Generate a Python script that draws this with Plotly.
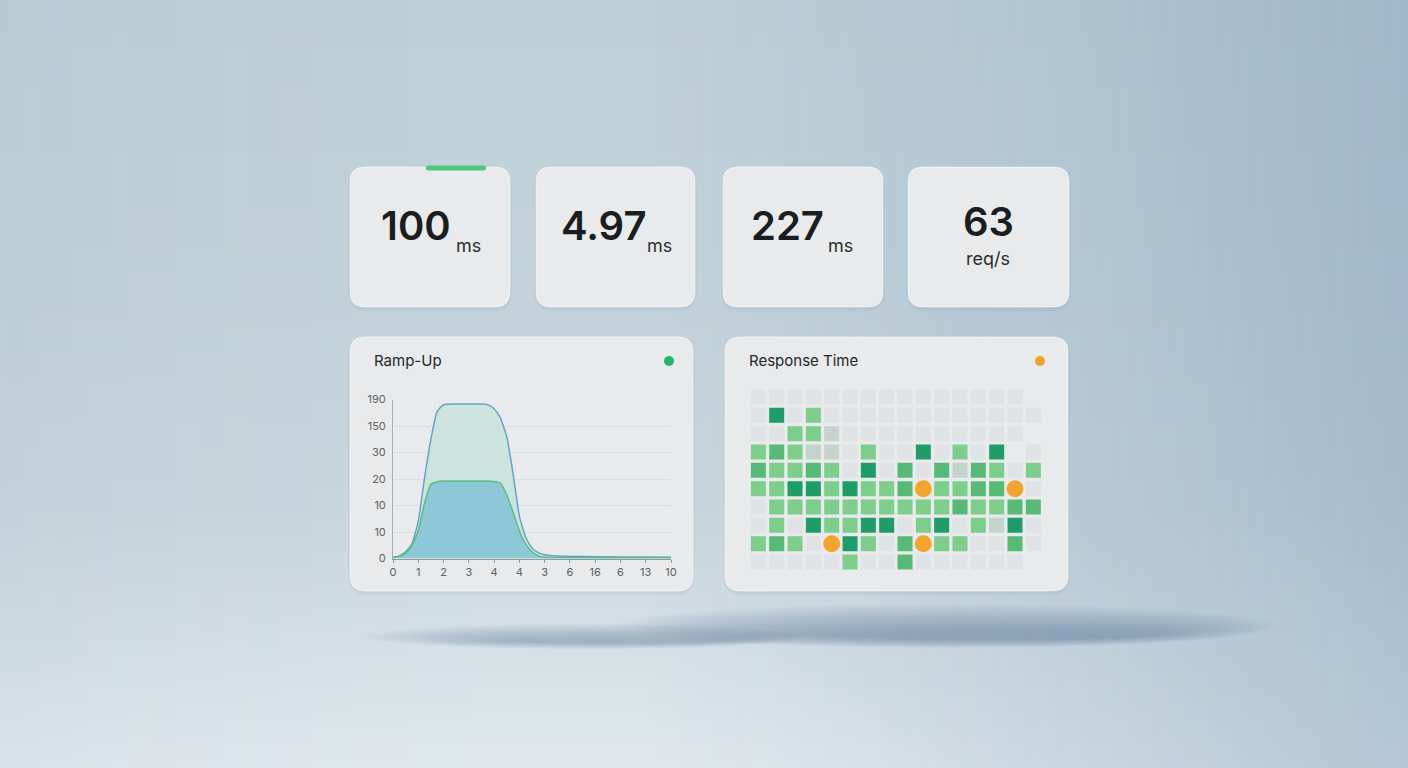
import plotly.graph_objects as go

W, H = 1408, 768

# ---------------- data ----------------
kpi_values = ["100", "4.97", "227", "63"]
kpi_units = ["ms", "ms", "ms", "req/s"]

ramp_x = [0, 0.25, 0.5, 0.75, 1.0, 1.25, 1.5, 1.75, 2.0, 2.5, 3.0, 3.5, 3.75, 4.0,
          4.25, 4.5, 4.75, 5.0, 5.25, 5.5, 5.75, 6.0, 6.5, 7, 8, 9, 10, 11]
ramp_outer = [0.05, 0.1, 0.25, 0.55, 1.4, 3.05, 4.5, 5.55, 5.8, 5.83, 5.83, 5.83, 5.8, 5.65,
              5.3, 4.6, 3.2, 1.6, 0.8, 0.4, 0.22, 0.14, 0.09, 0.08, 0.07, 0.06, 0.06, 0.05]
ramp_inner = [0.03, 0.08, 0.2, 0.5, 1.05, 2.1, 2.8, 2.9, 2.92, 2.92, 2.92, 2.92, 2.92, 2.9,
              2.85, 2.4, 1.75, 1.05, 0.55, 0.25, 0.1, 0.05, 0.04, 0.03, 0.03, 0.03, 0.03, 0.03]
y_tick_labels = ["0", "10", "10", "20", "30", "150", "190"]
x_tick_labels = ["0", "1", "2", "3", "4", "4", "3", "6", "16", "6", "13", "10"]

# response-time grid: -1 none, 0 empty, 1 light, 2 medium, 3 dark, 4 orange, 5 faded
heat_rows = [
    [0, 0, 0, 0, 0, 0, 0, 0, 0, 0, 0, 0, 0, 0, 0, -1],
    [0, 3, 0, 1, 0, 0, 0, 0, 0, 0, 0, 0, 0, 0, 0, 0],
    [0, 0, 1, 1, 5, 0, 0, 0, 0, 0, 0, 0, 0, 0, 0, -1],
    [1, 2, 1, 5, 5, 0, 1, 0, 0, 3, 0, 1, 0, 3, -1, 0],
    [2, 1, 1, 2, 1, 0, 3, 0, 2, 0, 2, 5, 2, 1, 0, 1],
    [1, 1, 3, 3, 1, 3, 1, 1, 2, 4, 1, 1, 2, 2, 4, 0],
    [0, 1, 1, 1, 1, 1, 1, 1, 1, 1, 1, 2, 1, 1, 2, 2],
    [0, 1, 0, 3, 1, 1, 3, 3, 0, 1, 3, 0, 1, 5, 3, 0],
    [1, 2, 1, 0, 4, 3, 1, 0, 2, 4, 1, 1, 0, 0, 2, 0],
    [0, 0, 0, 0, 0, 1, 0, 0, 2, 0, 0, 0, 0, 0, 0, -1],
]
level_colors = {0: "#dfe3e6", 1: "#7dcd8b", 2: "#56b976", 3: "#1f9d68", 4: "#f2a42c", 5: "#c4d3cb"}


# ---------------- helpers ----------------
def px(x):
    return x / W


def py(y):
    return 1 - y / H


def lerp(a, b, t):
    return a + (b - a) * t


def interp_color(stops, t):
    for i in range(len(stops) - 1):
        t0, c0 = stops[i]
        t1, c1 = stops[i + 1]
        if t0 <= t <= t1:
            f = (t - t0) / (t1 - t0) if t1 > t0 else 0
            return tuple(int(round(lerp(c0[k], c1[k], f))) for k in range(3))
    return stops[-1][1]


def rrect_path(x0, y0, x1, y1, r):
    pts = [("M", [(x0 + r, y0)]), ("L", [(x1 - r, y0)]), ("Q", [(x1, y0), (x1, y0 + r)]),
           ("L", [(x1, y1 - r)]), ("Q", [(x1, y1), (x1 - r, y1)]), ("L", [(x0 + r, y1)]),
           ("Q", [(x0, y1), (x0, y1 - r)]), ("L", [(x0, y0 + r)]), ("Q", [(x0, y0), (x0 + r, y0)])]
    s = ""
    for cmd, coords in pts:
        s += cmd + " ".join(f"{px(a):.5f},{py(b):.5f}" for a, b in coords) + " "
    return s + "Z"


shapes = []

# background: vertical gradient bands
v_stops = [(0, (190, 207, 216)), (300, (195, 210, 219)), (500, (201, 214, 222)),
           (650, (213, 224, 230)), (768, (224, 232, 237))]
band = 4
for i in range(H // band):
    yc = i * band + band / 2
    c = interp_color(v_stops, yc)
    shapes.append(dict(type="rect", xref="paper", yref="paper", x0=0, x1=1,
                       y0=py(i * band + band), y1=py(i * band), line_width=0,
                       fillcolor=f"rgb{c}", layer="below"))
# background: horizontal tint towards the right (bluer) and faint left
vb = 8
for i in range(W // vb):
    xc = (i * vb + vb / 2) / W
    if xc < 0.4:
        a = 0.07 * (1 - xc / 0.4) ** 2
    elif xc < 0.45:
        a = 0
    else:
        a = 0.42 * ((xc - 0.45) / 0.55) ** 1.25
    if a <= 0.002:
        continue
    shapes.append(dict(type="rect", xref="paper", yref="paper", x0=px(i * vb), x1=px(i * vb + vb),
                       y0=0, y1=1, line_width=0, fillcolor=f"rgba(118,152,182,{a:.3f})", layer="below"))

# floor shadow streak (stacked soft ellipses)
n = 24
for k in range(n):
    f = k / (n - 1)
    cx, cy = lerp(945, 990, f), 636
    hw, ht, hb = lerp(330, 150, f), lerp(32, 4, f), lerp(12, 3, f)
    shapes.append(dict(type="circle", xref="paper", yref="paper", x0=px(cx - hw), x1=px(cx + hw),
                       y0=py(cy + hb), y1=py(cy - ht), line_width=0,
                       fillcolor="rgba(105,140,168,0.036)", layer="below"))
n = 18
for k in range(n):
    f = k / (n - 1)
    cx, cy = lerp(585, 620, f), 641
    hw, ht, hb = lerp(220, 105, f), lerp(17, 3, f), lerp(8, 2, f)
    shapes.append(dict(type="circle", xref="paper", yref="paper", x0=px(cx - hw), x1=px(cx + hw),
                       y0=py(cy + hb), y1=py(cy - ht), line_width=0,
                       fillcolor="rgba(105,140,168,0.034)", layer="below"))

# cards
kpi_cards = [(350, 167, 510, 307), (536, 167, 695, 307), (723, 167, 883, 307), (908, 167, 1069, 307)]
chart_cards = [(350, 337, 693, 591), (725, 337, 1068, 591)]
for (x0, y0, x1, y1) in kpi_cards + chart_cards:
    for g, a in [(4, 0.045), (2, 0.06)]:
        shapes.append(dict(type="path", xref="paper", yref="paper",
                           path=rrect_path(x0 - g * 0.5, y0 + g * 0.5, x1 + g * 0.5, y1 + g * 1.2, 16 + g),
                           fillcolor=f"rgba(80,110,135,{a})", line_width=0, layer="below"))
    shapes.append(dict(type="path", xref="paper", yref="paper", path=rrect_path(x0, y0, x1, y1, 15),
                       fillcolor="#e8eaec", line=dict(color="rgba(255,255,255,0.55)", width=1),
                       layer="below"))

# green accent bar on first KPI card
shapes.append(dict(type="path", xref="paper", yref="paper", path=rrect_path(426, 165.5, 486, 170.5, 2.5),
                   fillcolor="#4ec77d", line_width=0, layer="below"))
# status dots
for (cx, cy, col) in [(669, 361, "#27b567"), (1040, 361, "#f0a328")]:
    shapes.append(dict(type="circle", xref="paper", yref="paper", x0=px(cx - 5), x1=px(cx + 5),
                       y0=py(cy + 5), y1=py(cy - 5), fillcolor=col, line_width=0, layer="below"))

# ---------------- traces ----------------
fig = go.Figure()

fig.add_trace(go.Scatter(x=ramp_x, y=ramp_outer, mode="lines",
                         line=dict(color="#64a3c6", width=1.5, shape="spline", smoothing=0.5),
                         fill="tozeroy", fillcolor="rgba(196,226,218,0.75)", xaxis="x", yaxis="y",
                         hoverinfo="skip", showlegend=False))
fig.add_trace(go.Scatter(x=ramp_x, y=ramp_inner, mode="lines",
                         line=dict(color="#5bbd80", width=1.5, shape="spline", smoothing=0.5),
                         fill="tozeroy", fillcolor="#8ec7d6", xaxis="x", yaxis="y",
                         hoverinfo="skip", showlegend=False))

# heatmap cells
for lvl in [0, 5, 1, 2, 3]:
    xs, ys = [], []
    for r, row in enumerate(heat_rows):
        for c, v in enumerate(row):
            if v == lvl:
                xs.append(c)
                ys.append(r)
    fig.add_trace(go.Scatter(x=xs, y=ys, mode="markers", xaxis="x2", yaxis="y2",
                             marker=dict(symbol="square", size=15, color=level_colors[lvl], line_width=0),
                             hoverinfo="skip", showlegend=False))
xs, ys = [], []
for r, row in enumerate(heat_rows):
    for c, v in enumerate(row):
        if v == 4:
            xs.append(c)
            ys.append(r)
fig.add_trace(go.Scatter(x=xs, y=ys, mode="markers", xaxis="x2", yaxis="y2",
                         marker=dict(symbol="circle", size=17, color=level_colors[4], line_width=0),
                         hoverinfo="skip", showlegend=False))

# ---------------- annotations ----------------
ann = []
num_font = dict(family="Inter, Roboto, sans-serif", size=40, color="#1b1e21", weight=600)
unit_font = dict(family="Inter, Roboto, sans-serif", size=18, color="#2a2e32")
num_pos = [(416, 225), (603, 225), (787, 225), (988, 221)]
unit_pos = [(454, 245), (645, 245), (826, 245), (988, 258)]
for i in range(4):
    ann.append(dict(text=kpi_values[i], x=px(num_pos[i][0]), y=py(num_pos[i][1]), xref="paper", yref="paper",
                    xanchor="center", yanchor="middle", showarrow=False, font=num_font))
    ann.append(dict(text=kpi_units[i], x=px(unit_pos[i][0]), y=py(unit_pos[i][1]), xref="paper", yref="paper",
                    xanchor="center" if i == 3 else "left", yanchor="middle", showarrow=False, font=unit_font))

title_font = dict(family="Inter, Roboto, sans-serif", size=15, color="#23272b")
ann.append(dict(text="Ramp-Up", x=px(372), y=py(361), xref="paper", yref="paper", xanchor="left",
                yanchor="middle", showarrow=False, font=title_font))
ann.append(dict(text="Response Time", x=px(747), y=py(361), xref="paper", yref="paper", xanchor="left",
                yanchor="middle", showarrow=False, font=title_font))

tick_font = dict(family="Inter, Roboto, sans-serif", size=11, color="#5b6268")

fig.update_layout(
    template="none",
    width=W, height=H, margin=dict(l=0, r=0, t=0, b=0, pad=0, autoexpand=False),
    paper_bgcolor="#c6d4dc", plot_bgcolor="rgba(0,0,0,0)",
    shapes=shapes, annotations=ann, showlegend=False,
    xaxis=dict(domain=[px(393), px(671)], range=[0, 11], tickvals=list(range(len(x_tick_labels))),
               ticktext=x_tick_labels, showgrid=False, zeroline=False, showline=True,
               linecolor="#8f9ba1", linewidth=1, ticks="outside", ticklen=3, tickcolor="#8f9ba1",
               tickfont=tick_font, fixedrange=True, automargin=False),
    yaxis=dict(domain=[py(558.5), py(399.5)], range=[0, 6], tickvals=list(range(len(y_tick_labels))),
               ticktext=y_tick_labels, showgrid=True, gridcolor="#d9dee1", gridwidth=1, zeroline=False,
               showline=True, linecolor="#a7b0b5", linewidth=1, ticks="", tickfont=tick_font,
               ticklabelstandoff=4, fixedrange=True, automargin=False),
    xaxis2=dict(domain=[px(749.2), px(1042.5)], range=[-0.5, 15.5], visible=False, fixedrange=True,
                automargin=False),
    yaxis2=dict(domain=[py(571.2), py(387.8)], range=[9.5, -0.5], visible=False, fixedrange=True,
                automargin=False),
)

fig.write_html(
    "out.html",
    config={"displayModeBar": False},
    post_script="document.body.style.margin='0';document.body.style.overflow='hidden';",
)
